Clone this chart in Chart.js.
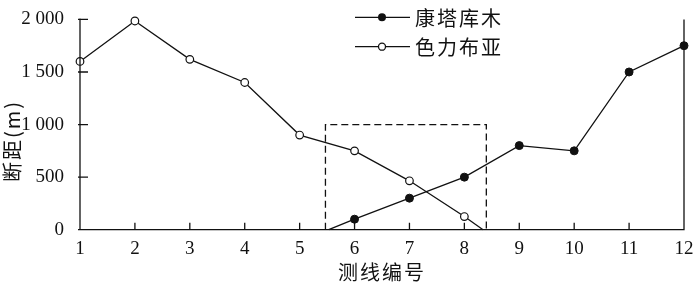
<!DOCTYPE html>
<html><head><meta charset="utf-8">
<script src="https://cdn.jsdelivr.net/npm/chart.js@4/dist/chart.umd.min.js"></script>
<style>html,body{margin:0;padding:0;background:#fff}#wrap{width:700px;height:284px}</style>
</head><body><div id="wrap"><canvas id="c" width="700" height="284"></canvas></div>
<script>
// ---- data ----
const xTickValues = [1,2,3,4,5,6,7,8,9,10,11,12];
const yTickValues = [0,500,1000,1500,2000];
const yTickLabels = ['0','500','1 000','1 500','2 000'];
const seriesNames = ['康塔库木','色力布亚'];
const kangX = [5.53, 6, 7, 8, 9, 10, 11, 12];
const kangY = [0, 100, 300, 500, 800, 750, 1500, 1750];
const seliX = [1, 2, 3, 4, 5, 6, 7, 8, 8.34];
const seliY = [1600, 1985, 1620, 1400, 900, 750, 465, 125, 0];
const boxX = [5.47, 5.47, 8.40, 8.40];
const boxY = [0, 1000, 1000, 0];
const xTitle = '测线编号';
const yTitle = '断距(m)';

const pts = (xs, ys) => xs.map((x, i) => ({x, y: ys[i]}));
const INK = '#111';
const CJKFONT = '20px "Noto Sans CJK SC", sans-serif';

const decor = {
  id: 'decor',
  afterDraw(chart) {
    const ctx = chart.ctx, ca = chart.chartArea;
    const xs = chart.scales.x, ys = chart.scales.y;
    ctx.save();
    ctx.strokeStyle = INK; ctx.lineWidth = 1.3;
    ctx.beginPath();
    ctx.moveTo(ca.left, ca.top - 1); ctx.lineTo(ca.left, ca.bottom);
    ctx.lineTo(ca.right, ca.bottom); ctx.lineTo(ca.right, ca.top);
    xTickValues.forEach(v => { const p = xs.getPixelForValue(v); ctx.moveTo(p, ca.bottom); ctx.lineTo(p, ca.bottom - 7); });
    yTickValues.forEach(v => { const p = ys.getPixelForValue(v); ctx.moveTo(ca.left - 2, p); ctx.lineTo(ca.left + 8, p); });
    ctx.stroke();
    ctx.fillStyle = INK;
    ctx.font = CJKFONT;
    ctx.textAlign = 'center'; ctx.textBaseline = 'middle';
    ctx.letterSpacing = '2px';
    ctx.fillText(xTitle, (ca.left + ca.right) / 2, 272);
    ctx.save();
    ctx.translate(12, 141); ctx.rotate(-Math.PI / 2);
    ctx.fillText(yTitle, 0, 0);
    ctx.restore();
    const rows = [17.3, 46.7];
    chart.data.datasets.slice(0, 2).forEach((ds, i) => {
      const y = rows[i];
      ctx.beginPath(); ctx.moveTo(355, y); ctx.lineTo(410, y); ctx.stroke();
      ctx.beginPath(); ctx.arc(382, y, i === 0 ? 4 : 3.5, 0, Math.PI * 2);
      if (i === 0) { ctx.fillStyle = INK; ctx.fill(); } else { ctx.fillStyle = '#fff'; ctx.fill(); ctx.stroke(); }
      ctx.fillStyle = INK; ctx.textAlign = 'left';
      ctx.fillText(ds.label, 415, y + 1);
    });
    ctx.restore();
  }
};

new Chart(document.getElementById('c'), {
  type: 'line',
  data: {
    datasets: [
      { label: seriesNames[0], data: pts(kangX, kangY), borderColor: INK, borderWidth: 1.3,
        pointRadius: kangX.map((_, i) => i === 0 ? 0 : 4), pointBackgroundColor: INK, pointBorderColor: INK,
        pointBorderWidth: 1, clip: false },
      { label: seriesNames[1], data: pts(seliX, seliY), borderColor: INK, borderWidth: 1.3,
        pointRadius: seliX.map((_, i) => i === seliX.length - 1 ? 0 : 3.8), pointBackgroundColor: '#fff', pointBorderColor: INK,
        pointBorderWidth: 1.2, clip: false },
      { label: 'box', data: pts(boxX, boxY), borderColor: INK, borderWidth: 1.3, borderDash: [7, 4],
        pointRadius: 0, clip: false }
    ]
  },
  options: {
    responsive: false, animation: false, events: [],
    layout: { autoPadding: false, padding: { top: 10.7, right: 16, left: 0, bottom: 0 } },
    plugins: { legend: { display: false }, tooltip: { enabled: false } },
    scales: {
      x: { type: 'linear', min: 1, max: 12,
        afterBuildTicks: s => { s.ticks = xTickValues.map(v => ({value: v})); },
        afterFit: s => { s.height = 54.3; },
        grid: { display: false }, border: { display: false },
        ticks: { padding: 0, color: INK, font: { family: '"Liberation Serif", serif', size: 19 }, maxRotation: 0, autoSkip: false } },
      y: { min: 0, max: 2000,
        afterBuildTicks: s => { s.ticks = yTickValues.map(v => ({value: v})); },
        afterFit: s => { s.width = 80; },
        grid: { display: false }, border: { display: false },
        ticks: { padding: 8, color: INK, font: { family: '"Liberation Serif", serif', size: 19 },
          callback: v => yTickLabels[yTickValues.indexOf(v)] } }
    }
  },
  plugins: [decor]
});
</script></body></html>
